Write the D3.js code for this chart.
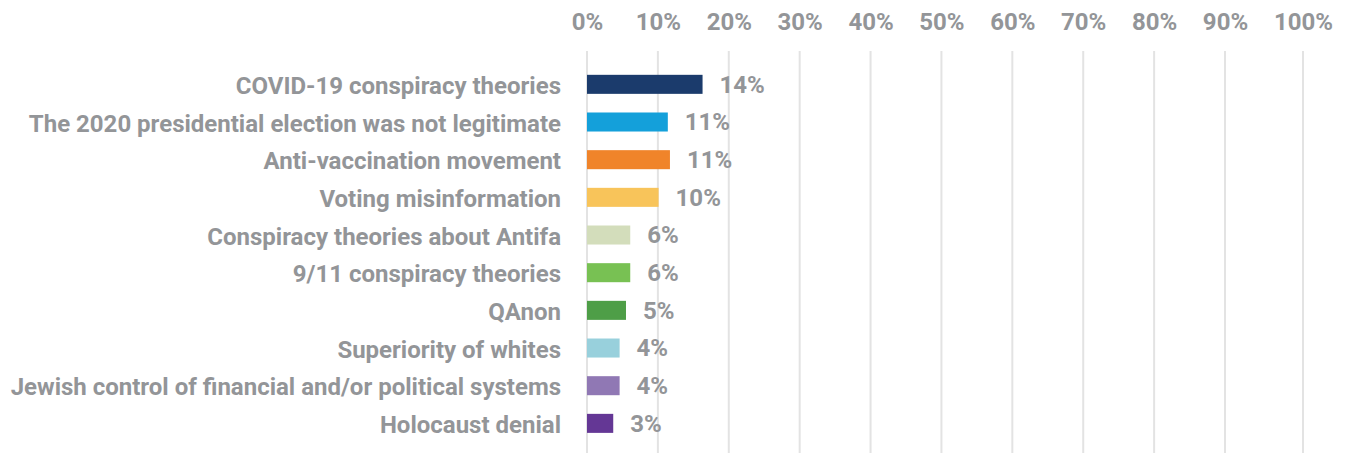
<!DOCTYPE html>
<html>
<head>
<meta charset="utf-8">
<script src="https://cdn.jsdelivr.net/npm/d3@7"></script>
<style>
  html, body { margin: 0; padding: 0; background: #fff; }
  svg { display: block; font-family: Roboto, "Noto Sans", sans-serif; font-weight: 700; }
</style>
</head>
<body>
<svg id="chart" width="1352" height="453"></svg>
<script>
const categories = [
  "COVID-19 conspiracy theories",
  "The 2020 presidential election was not legitimate",
  "Anti-vaccination movement",
  "Voting misinformation",
  "Conspiracy theories about Antifa",
  "9/11 conspiracy theories",
  "QAnon",
  "Superiority of whites",
  "Jewish control of financial and/or political systems",
  "Holocaust denial"
];
// bar lengths as drawn (percent)
const values = [16.3, 11.4, 11.7, 10.1, 6.1, 6.1, 5.5, 4.6, 4.6, 3.7];
// value labels as printed
const valueLabels = ["14%", "11%", "11%", "10%", "6%", "6%", "5%", "4%", "4%", "3%"];
const colors = ["#1b3b6c", "#14a0da", "#f0842a", "#f8c45a", "#d3ddbb", "#78c153", "#4e9e47", "#98d0dc", "#9078b4", "#643795"];
const tickValues = [0, 10, 20, 30, 40, 50, 60, 70, 80, 90, 100];

const svg = d3.select("#chart");
const textColor = "#939598";

const x = d3.scaleLinear().domain([0, 90, 100]).range([587, 1225, 1303]);
const y = d3.scaleBand().domain(categories).range([65.5, 442.2])
  .paddingInner(0.495).paddingOuter(0.2475);

// gridlines
svg.append("g")
  .selectAll("line")
  .data(tickValues)
  .join("line")
  .attr("x1", d => x(d)).attr("x2", d => x(d))
  .attr("y1", 51).attr("y2", 453)
  .attr("stroke", "#e3e3e3")
  .attr("stroke-width", 2);

// top axis
const axis = d3.axisTop(x).tickValues(tickValues).tickFormat(d => d + "%").tickSize(0).tickPadding(0);
const ag = svg.append("g").attr("transform", "translate(0,29.5)").call(axis);
ag.select(".domain").remove();
ag.selectAll("text")
  .attr("fill", textColor)
  .attr("font-size", 24)
  .attr("font-weight", 700)
  .attr("font-family", "Roboto, sans-serif")
  .attr("dy", 0);

// category labels
const yAxis = d3.axisLeft(y).tickSize(0).tickPadding(26);
const yg = svg.append("g").attr("transform", `translate(${x(0)},0)`).call(yAxis);
yg.select(".domain").remove();
yg.selectAll("text")
  .attr("fill", textColor)
  .attr("font-size", 24)
  .attr("font-weight", 700)
  .attr("font-family", "Roboto, sans-serif")
  .attr("dy", "0.4em");

// bars
svg.append("g")
  .selectAll("rect")
  .data(categories)
  .join("rect")
  .attr("x", x(0))
  .attr("y", d => y(d))
  .attr("width", (d, i) => x(values[i]) - x(0))
  .attr("height", y.bandwidth())
  .attr("fill", (d, i) => colors[i]);

// value labels
svg.append("g")
  .selectAll("text")
  .data(categories)
  .join("text")
  .attr("x", (d, i) => x(values[i]) + 17)
  .attr("y", d => y(d) + y.bandwidth() / 2)
  .attr("dy", "0.35em")
  .attr("fill", textColor)
  .attr("font-size", 24)
  .attr("font-weight", 700)
  .attr("font-family", "Roboto, sans-serif")
  .text((d, i) => valueLabels[i]);
</script>
</body>
</html>
